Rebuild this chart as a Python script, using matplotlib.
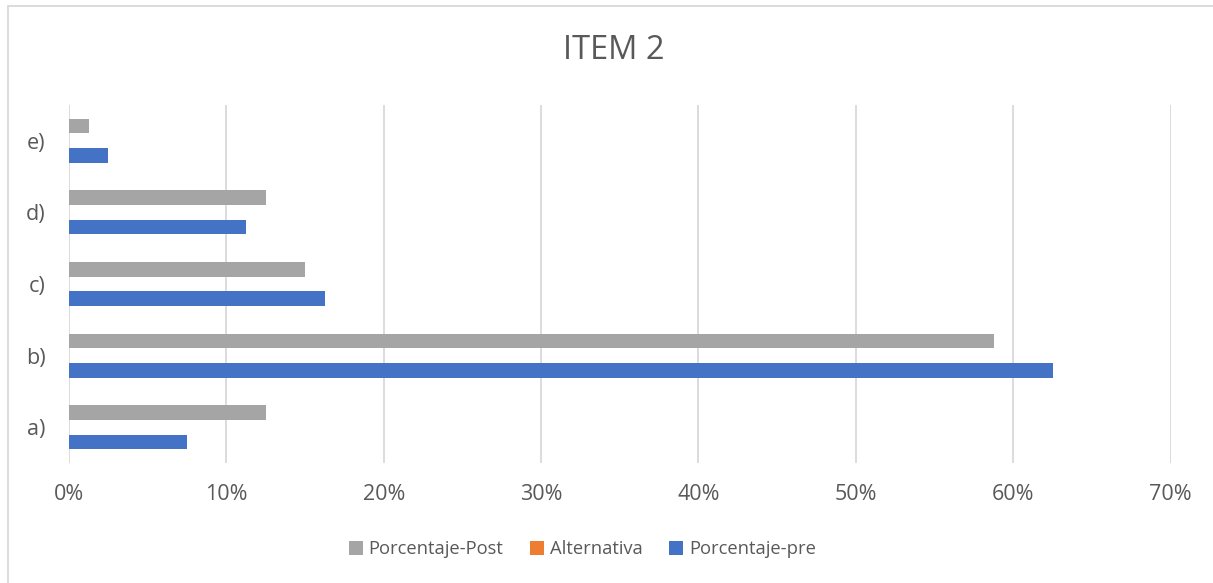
import matplotlib.pyplot as plt
import numpy as np
from matplotlib.patches import Rectangle
from matplotlib.ticker import PercentFormatter

categories = ["a)", "b)", "c)", "d)", "e)"]
porcentaje_post = [12.5, 58.75, 15.0, 12.5, 1.25]
alternativa = [0, 0, 0, 0, 0]
porcentaje_pre = [7.5, 62.5, 16.25, 11.25, 2.5]

plt.rcParams['font.family'] = ['Open Sans', 'DejaVu Sans']
txt = '#595959'

fig = plt.figure(figsize=(12.13, 5.83), dpi=100)
ax = fig.add_axes([0.0568, 0.2058, 0.9083, 0.6141])

y = np.arange(len(categories))
h = 0.205
ax.barh(y + h, porcentaje_post, height=h, color='#a5a5a5', label='Porcentaje-Post', zorder=3)
ax.barh(y, alternativa, height=h, color='#ed7d31', label='Alternativa', zorder=3)
ax.barh(y - h, porcentaje_pre, height=h, color='#4472c4', label='Porcentaje-pre', zorder=3)

ax.set_xlim(0, 70)
ax.set_ylim(-0.5, len(categories) - 0.5)
ax.set_xticks(np.arange(0, 71, 10))
ax.xaxis.set_major_formatter(PercentFormatter(decimals=0))
ax.set_yticks(y)
ax.set_yticklabels(categories)
ax.grid(axis='x', color='#d9d9d9', linewidth=1.3, zorder=0)
for s in ax.spines.values():
    s.set_visible(False)
ax.tick_params(length=0, labelsize=15.5, labelcolor=txt)
ax.tick_params(axis='x', pad=15)
ax.tick_params(axis='y', pad=17)

fig.text(0.506, 0.914, "ITEM 2", ha='center', va='center', fontsize=23.5, color=txt)

handles, labels = ax.get_legend_handles_labels()
fig.legend(handles, labels, loc='center', bbox_to_anchor=(0.48, 0.058), ncol=3, frameon=False,
           fontsize=13.2, labelcolor=txt, handlelength=0.78, handleheight=0.78,
           handletextpad=0.3, columnspacing=1.45)

fig.patches.append(Rectangle((8 / 1213, -0.1), 1.2, 1 - 6 / 583 + 0.1, transform=fig.transFigure,
                             fill=False, edgecolor='#d9d9d9', linewidth=1.3))

plt.savefig("out.png")
